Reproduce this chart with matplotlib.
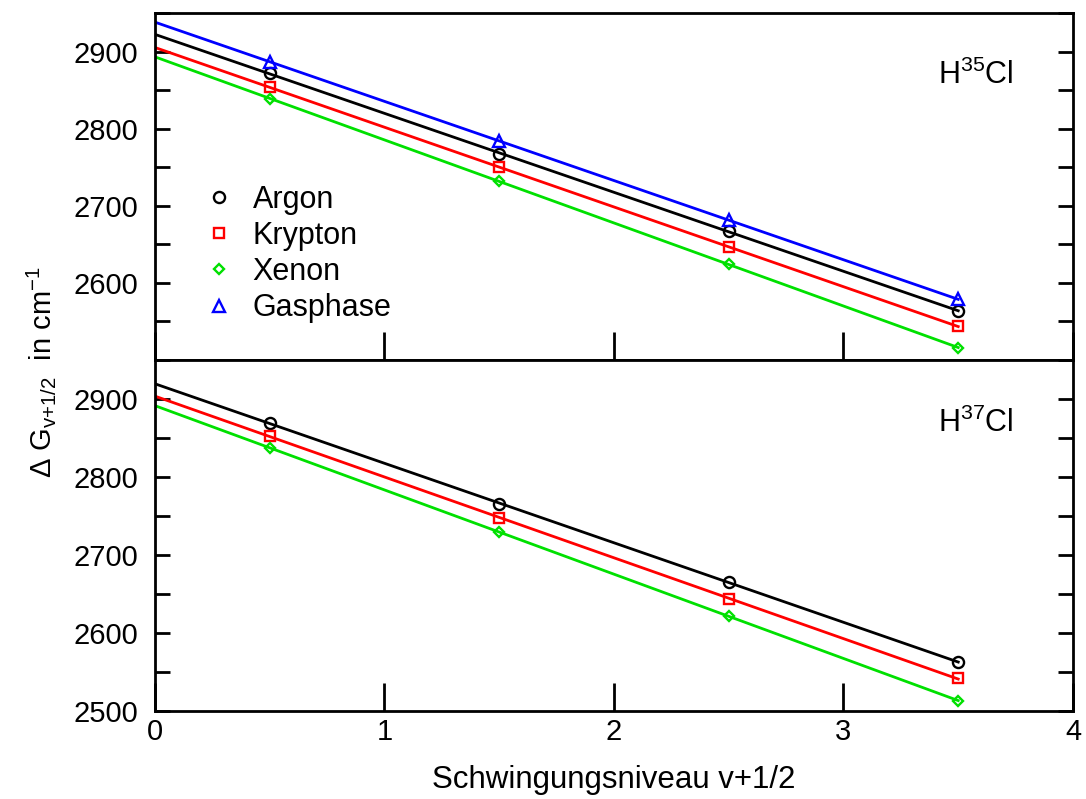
import matplotlib
matplotlib.use("Agg")
import matplotlib.pyplot as plt
import numpy as np
from matplotlib.ticker import MultipleLocator

plt.rcParams['font.family'] = ['Liberation Sans', 'DejaVu Sans']
plt.rcParams['mathtext.fontset'] = 'custom'
plt.rcParams['mathtext.rm'] = 'Liberation Sans'
plt.rcParams['mathtext.it'] = 'Liberation Sans'
plt.rcParams['mathtext.default'] = 'regular'

v = [0.5, 1.5, 2.5, 3.5]

# H35Cl
argon_35 = [2872, 2767, 2667, 2564]
krypton_35 = [2854, 2750, 2646, 2544]
xenon_35 = [2839, 2732, 2624, 2516]
gas_35 = [2887, 2784, 2681, 2579]

# H37Cl
argon_37 = [2869, 2766, 2665, 2563]
krypton_37 = [2853, 2747, 2644, 2542]
xenon_37 = [2837, 2730, 2622, 2513]

names = ['Argon', 'Krypton', 'Xenon', 'Gasphase']
colors = ['black', '#ff0000', '#00e000', '#0000ff']
markers = ['o', 's', 'D', '^']
msizes = [8, 7, 5.5, 8]

fig = plt.figure(figsize=(10.86, 7.99), dpi=100)
ax1 = fig.add_axes([0.1427, 0.5494, 0.8453, 0.4343])
ax2 = fig.add_axes([0.1427, 0.1100, 0.8453, 0.4394])

x_fit = np.array([0, 3.5])


def draw(ax, series, label):
    for i, y in enumerate(series):
        k, d = np.polyfit(v, y, 1)
        ax.plot(x_fit, k * x_fit + d, color=colors[i], lw=2, zorder=2)
        ax.plot(v, y, ls='none', marker=markers[i], ms=msizes[i], mfc='none',
                mec=colors[i], mew=1.7, label=names[i], zorder=3)
    ax.set_xlim(0, 4)
    ax.set_ylim(2500, 2950)
    ax.xaxis.set_major_locator(MultipleLocator(1))
    ax.yaxis.set_major_locator(MultipleLocator(100))
    ax.yaxis.set_minor_locator(MultipleLocator(50))
    ax.tick_params(axis='y', which='both', direction='in', left=True, right=True,
                   length=11, width=2, labelsize=21, pad=12)
    ax.tick_params(axis='x', which='major', direction='in', top=False,
                   length=20, width=2, labelsize=21, pad=5)
    for s in ax.spines.values():
        s.set_linewidth(2)
    ax.text(0.935, 0.82, label, transform=ax.transAxes, fontsize=22,
            ha='right', va='center')


draw(ax1, [argon_35, krypton_35, xenon_35, gas_35], 'H$^{35}$Cl')
draw(ax2, [argon_37, krypton_37, xenon_37], 'H$^{37}$Cl')

ax1.set_yticks([2600, 2700, 2800, 2900])
ax1.tick_params(axis='x', labelbottom=False)
ax2.set_yticks([2500, 2600, 2700, 2800, 2900])

leg = ax1.legend(loc='upper left', bbox_to_anchor=(0.04, 0.54), frameon=False,
                 fontsize=22, handletextpad=0.6, labelspacing=0.2,
                 handlelength=1.0, borderaxespad=0)

ax2.set_xlabel('Schwingungsniveau v+1/2', fontsize=22.5, labelpad=14)
fig.text(0.038, 0.534, r'$\Delta$ G$_{v{+}1/2}$  in cm$^{-1}$',
         rotation=90, fontsize=21, ha='center', va='center')

fig.savefig('out.png', dpi=100)
